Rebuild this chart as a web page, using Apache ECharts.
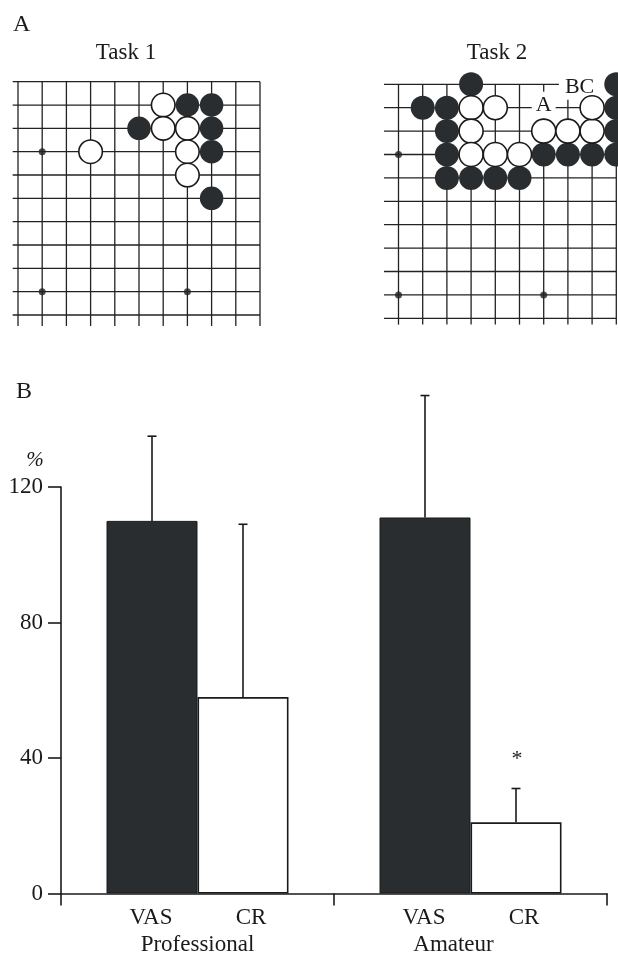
<!DOCTYPE html>
<html><head><meta charset="utf-8">
<script src="https://cdn.jsdelivr.net/npm/echarts@6/dist/echarts.min.js"></script>
<style>html,body{margin:0;padding:0;background:#fff}#c{width:618px;height:958px}</style>
</head><body><div id="c"></div>
<script>
// ---- Panel B data ----
const groups = ['Professional', 'Amateur'];
const conditions = ['VAS', 'CR'];
const vasMean = [110, 111];
const vasUpper = [135, 147];
const crMean = [58, 21];
const crUpper = [109, 31];
const crSignif = ['', '*'];
const yTicks = [0, 40, 80, 120];

// ---- Panel A data (board column, row from top) ----
const task1Black = [[7,1],[8,1],[5,2],[8,2],[8,3],[8,5]];
const task1White = [[6,1],[6,2],[7,2],[3,3],[7,3],[7,4]];
const task1Stars = [[1,3],[1,9],[7,9]];
const task2Black = [[3,0],[1,1],[2,1],[2,2],[2,3],[2,4],[3,4],[4,4],[5,4],[6,3],[7,3],[8,3],[9,3],[9,0],[9,1],[9,2]];
const task2White = [[3,1],[4,1],[3,2],[3,3],[4,3],[5,3],[6,2],[7,2],[8,2],[8,1]];
const task2Stars = [[0,3],[0,9],[6,9]];
const task2Marks = [['A',6,1],['BC',7,0]];
const panelTitles = ['Task 1', 'Task 2'];

const FONT = "'Liberation Serif','Times New Roman',serif";
const INK = '#1a1a1a';
const STONE = '#2a2d2f';
const BAR_W = 91;

function boardLines(cols, rows, leftExt, bottomExt) {
  const out = [];
  for (let r = 0; r < rows; r++) out.push([-leftExt, r, cols - 1, r]);
  for (let c = 0; c < cols; c++) out.push([c, 0, c, rows - 1 + bottomExt]);
  return out;
}
function lineItem(params, api) {
  const p1 = api.coord([api.value(0), api.value(1)]);
  const p2 = api.coord([api.value(2), api.value(3)]);
  return {type:'line', shape:{x1:p1[0], y1:p1[1], x2:p2[0], y2:p2[1]},
          style:{stroke:'#222', lineWidth:1.3}};
}
function markItem(params, api) {
  const m = task2Marks[params.dataIndex];
  const p = api.coord([m[1], m[2]]);
  if (m[0] === 'A') {
    return {type:'text', x:p[0], y:p[1]-2.5, style:{text:m[0], font:'22px ' + FONT, fill:INK,
      align:'center', verticalAlign:'middle', textAlign:'center', textVerticalAlign:'middle',
      backgroundColor:'#fff', padding:[1.5,4,3.5,4]}};
  }
  return {type:'text', x:p[0]-9, y:p[1]+3, style:{text:m[0], font:'22px ' + FONT, fill:INK,
      align:'left', verticalAlign:'middle', textAlign:'left', textVerticalAlign:'middle',
      backgroundColor:'#fff', padding:[2.5,13,0.5,6]}};
}
function stoneSeries(data, gi, color, size) {
  const white = color === 'white';
  return {type:'scatter', xAxisIndex:gi, yAxisIndex:gi, data:data, symbolSize:size, silent:true,
    itemStyle: white ? {color:'#fff', borderColor:INK, borderWidth:1.6, opacity:1}
                     : {color:STONE, opacity:1}, z:5};
}
function errRenderer(side, upper, sig) {
  return function (params, api) {
    const i = api.value(0);
    const base = api.coord([i, api.value(1)]);
    const top = api.coord([i, upper[params.dataIndex]]);
    const x = base[0] + side * BAR_W / 2;
    const children = [
      {type:'line', shape:{x1:x, y1:base[1], x2:x, y2:top[1]}, style:{stroke:INK, lineWidth:1.6}},
      {type:'line', shape:{x1:x-4.5, y1:top[1], x2:x+4.5, y2:top[1]}, style:{stroke:INK, lineWidth:1.6}}
    ];
    if (sig && sig[params.dataIndex]) {
      children.push({type:'text', x:x+1, y:top[1]-29, style:{text:sig[params.dataIndex], font:'22px ' + FONT,
        fill:INK, align:'center', verticalAlign:'middle', textAlign:'center', textVerticalAlign:'middle'}});
    }
    return {type:'group', children:children};
  };
}

const chart = echarts.init(document.getElementById('c'), null, {renderer:'canvas'});
const hiddenAxis = (gi, max, inv) => ({type:'value', gridIndex:gi, min:0, max:max, inverse:!!inv, show:false});
const option = {
  backgroundColor:'#fff',
  animation:false,
  graphic:[
    {type:'text', x:13, y:24.5, style:{text:'A', font:'24px ' + FONT, fill:INK, align:'left', verticalAlign:'middle', textAlign:'left', textVerticalAlign:'middle'}},
    {type:'text', x:126, y:52.5, style:{text:panelTitles[0], font:'23px ' + FONT, fill:INK, align:'center', verticalAlign:'middle', textAlign:'center', textVerticalAlign:'middle'}},
    {type:'text', x:497, y:52.5, style:{text:panelTitles[1], font:'23px ' + FONT, fill:INK, align:'center', verticalAlign:'middle', textAlign:'center', textVerticalAlign:'middle'}},
    {type:'text', x:16, y:392, style:{text:'B', font:'24px ' + FONT, fill:INK, align:'left', verticalAlign:'middle', textAlign:'left', textVerticalAlign:'middle'}}
  ],
  grid:[
    {left:18, top:81.7, width:242, height:233.3},
    {left:398.5, top:84.3, width:217.8, height:234},
    {left:61, right:11, top:487, bottom:64.5}
  ],
  xAxis:[
    hiddenAxis(0, 10), hiddenAxis(1, 9),
    {type:'category', gridIndex:2,
     data:[{value:groups[0]}, {value:groups[1], textStyle:{padding:[0,34,0,0]}}],
     axisLine:{show:true, lineStyle:{color:INK, width:1.6}},
     axisTick:{show:true, inside:false, length:12, lineStyle:{color:INK, width:1.6}},
     axisLabel:{fontFamily:FONT, fontSize:23, color:INK, margin:39.5},
     splitLine:{show:false}}
  ],
  yAxis:[
    hiddenAxis(0, 10, true), hiddenAxis(1, 10, true),
    {type:'value', gridIndex:2, min:yTicks[0], max:yTicks[yTicks.length-1], interval:yTicks[1]-yTicks[0],
     name:'%', nameLocation:'end', nameGap:16,
     nameTextStyle:{fontFamily:FONT, fontSize:21, fontStyle:'italic', color:INK, align:'center', padding:[0,52,0,0]},
     axisLine:{show:true, lineStyle:{color:INK, width:1.6}},
     axisTick:{show:true, inside:false, length:13, lineStyle:{color:INK, width:1.6}},
     axisLabel:{fontFamily:FONT, fontSize:23, color:INK, margin:18},
     splitLine:{show:false}}
  ],
  series:[
    {type:'custom', name:'grid1', xAxisIndex:0, yAxisIndex:0, data:boardLines(11, 11, 0.22, 0.47),
     encode:{x:[0,2], y:[1,3]}, renderItem:lineItem, clip:false, silent:true, z:1},
    {type:'custom', name:'grid2', xAxisIndex:1, yAxisIndex:1, data:boardLines(10, 11, 0.6, 0.27),
     encode:{x:[0,2], y:[1,3]}, renderItem:lineItem, clip:false, silent:true, z:1},
    {type:'custom', name:'marks', xAxisIndex:1, yAxisIndex:1, data:task2Marks.map(m => [m[1], m[2]]),
     renderItem:markItem, clip:false, silent:true, z:2},
    {type:'scatter', xAxisIndex:0, yAxisIndex:0, data:task1Stars, symbolSize:7, itemStyle:{color:'#222'}, silent:true, z:3},
    {type:'scatter', xAxisIndex:1, yAxisIndex:1, data:task2Stars, symbolSize:7, itemStyle:{color:'#222'}, silent:true, z:3},
    stoneSeries(task1Black, 0, 'black', 23.5),
    stoneSeries(task1White, 0, 'white', 23.5),
    stoneSeries(task2Black, 1, 'black', 24),
    stoneSeries(task2White, 1, 'white', 24),
    {type:'bar', name:conditions[0], xAxisIndex:2, yAxisIndex:2, data:vasMean, barWidth:BAR_W, barGap:'0%',
     itemStyle:{color:STONE, borderColor:INK, borderWidth:1},
     label:{show:true, position:'bottom', distance:12.5, offset:[-1,0], formatter:'{a}', fontFamily:FONT, fontSize:23, color:INK}},
    {type:'bar', name:conditions[1], xAxisIndex:2, yAxisIndex:2, data:crMean, barWidth:BAR_W, barGap:'0%',
     itemStyle:{color:'#fff', borderColor:INK, borderWidth:1.6},
     label:{show:true, position:'bottom', distance:12.5, offset:[8,0], formatter:'{a}', fontFamily:FONT, fontSize:23, color:INK}},
    {type:'custom', name:'VAS error', xAxisIndex:2, yAxisIndex:2, data:vasMean.map((m,i)=>[i,m]),
     renderItem:errRenderer(-1, vasUpper, null), clip:false, silent:true, z:4},
    {type:'custom', name:'CR error', xAxisIndex:2, yAxisIndex:2, data:crMean.map((m,i)=>[i,m]),
     renderItem:errRenderer(1, crUpper, crSignif), clip:false, silent:true, z:4}
  ]
};
chart.setOption(option);
</script></body></html>
